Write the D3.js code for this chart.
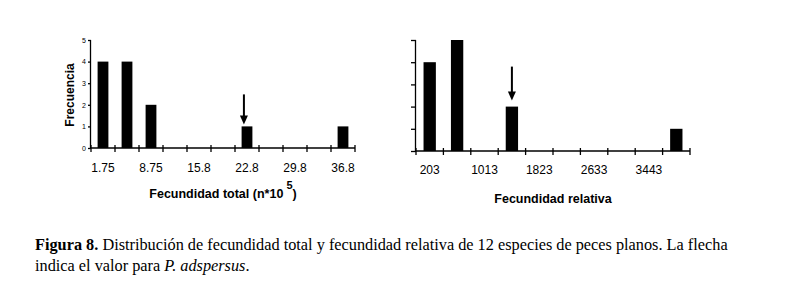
<!DOCTYPE html>
<html>
<head>
<meta charset="utf-8">
<script src="https://cdn.jsdelivr.net/npm/d3@7"></script>
<style>
  html, body { margin: 0; padding: 0; background: #fff; }
  svg { display: block; }
</style>
</head>
<body>
<div id="chart"></div>
<script>
// Histogram of total fecundity (n*10^5), bin width 3.5
const totalBins = [1.75, 5.25, 8.75, 12.25, 15.75, 19.25, 22.75, 26.25, 29.75, 33.25, 36.75];
const totalCounts = [4, 4, 2, 0, 0, 0, 1, 0, 0, 0, 1];
const totalTickValues = [1.75, 8.75, 15.75, 22.75, 29.75, 36.75];
const totalTickLabels = ['1.75', '8.75', '15.8', '22.8', '29.8', '36.8'];
const totalArrow = 22.3; // P. adspersus

// Histogram of relative fecundity, bin width 405
const relBins = [202.5, 607.5, 1012.5, 1417.5, 1822.5, 2227.5, 2632.5, 3037.5, 3442.5, 3847.5];
const relCounts = [4, 5, 0, 2, 0, 0, 0, 0, 0, 1];
const relTickValues = [202.5, 1012.5, 1822.5, 2632.5, 3442.5];
const relTickLabels = ['203', '1013', '1823', '2633', '3443'];
const relArrow = 1417.5;

const yTicks = [0, 1, 2, 3, 4, 5];

const width = 786;
const height = 286;
const sans = "'Liberation Sans', Arial, sans-serif";
const serif = "'Liberation Serif', 'Times New Roman', serif";

const svg = d3.select('#chart')
  .append('svg')
  .attr('width', width)
  .attr('height', height)
  .attr('viewBox', `0 0 ${width} ${height}`);

svg.append('rect').attr('width', width).attr('height', height).attr('fill', '#fff');

function drawHist(opts) {
  const { bins, counts, binWidth, tickValues, tickLabels, arrowAt, x0, x1, base, top,
    yTickLen, showYLabels, labelY, title, titleY, sup, arrowGap, arrowLen } = opts;

  const x = d3.scaleLinear()
    .domain([bins[0] - binWidth / 2, bins[bins.length - 1] + binWidth / 2])
    .range([x0, x1]);
  const y = d3.scaleLinear().domain([0, 5]).range([base, top]);

  const g = svg.append('g');

  // bars
  g.selectAll('rect.bar')
    .data(bins.map((b, i) => ({ b, c: counts[i] })).filter((d) => d.c > 0))
    .join('rect')
    .attr('class', 'bar')
    .attr('x', (d) => x(d.b - binWidth * 0.225))
    .attr('width', (d) => x(d.b + binWidth * 0.225) - x(d.b - binWidth * 0.225))
    .attr('y', (d) => y(d.c))
    .attr('height', (d) => y(0) - y(d.c))
    .attr('fill', '#000');

  // y axis
  const yAxis = d3.axisLeft(y)
    .tickValues(yTicks)
    .tickSize(yTickLen)
    .tickPadding(2)
    .tickFormat(showYLabels ? d3.format('d') : () => '');
  g.append('g')
    .attr('transform', `translate(${x0},0)`)
    .call(yAxis)
    .call((a) => a.select('.domain').attr('d', `M-0.5,${y(0)}V${y(5)}`).attr('stroke', '#000').attr('stroke-width', 1.3))
    .call((a) => a.selectAll('.tick line').attr('stroke', '#000').attr('stroke-width', 1.3))
    .call((a) => a.selectAll('.tick text').attr('font-family', sans).attr('font-size', 7).attr('fill', '#000'));

  // x axis: tick marks at bin edges, crossing the axis line
  const edges = d3.range(bins.length + 1).map((i) => bins[0] - binWidth / 2 + i * binWidth);
  g.append('line')
    .attr('x1', x0).attr('x2', x1)
    .attr('y1', y(0)).attr('y2', y(0))
    .attr('stroke', '#000').attr('stroke-width', 1.3);
  g.selectAll('line.xt')
    .data(edges)
    .join('line')
    .attr('class', 'xt')
    .attr('x1', (d) => x(d)).attr('x2', (d) => x(d))
    .attr('y1', y(0) - 3).attr('y2', y(0) + 4)
    .attr('stroke', '#000').attr('stroke-width', 1.3);

  g.selectAll('text.xl')
    .data(tickValues)
    .join('text')
    .attr('class', 'xl')
    .attr('x', (d) => x(d))
    .attr('y', labelY)
    .attr('text-anchor', 'middle')
    .attr('font-family', sans)
    .attr('font-size', 12)
    .attr('fill', '#000')
    .text((d, i) => tickLabels[i]);

  // title
  const t = g.append('text')
    .attr('x', (x0 + x1) / 2)
    .attr('y', titleY)
    .attr('text-anchor', 'middle')
    .attr('font-family', sans)
    .attr('font-size', 12.5)
    .attr('font-weight', 'bold')
    .attr('fill', '#000');
  t.append('tspan').text(title);
  if (sup) {
    t.append('tspan').attr('dy', -9).attr('font-size', 11).text(' ' + sup);
    t.append('tspan').attr('dy', 9).text(')');
  }

  // arrow marking P. adspersus
  const ai = bins.findIndex((b) => Math.abs(b - arrowAt) <= binWidth / 2);
  const ax = x(arrowAt);
  const tipY = y(counts[ai]) - arrowGap;
  g.append('line')
    .attr('x1', ax).attr('x2', ax)
    .attr('y1', tipY - arrowLen).attr('y2', tipY - 8)
    .attr('stroke', '#000').attr('stroke-width', 2);
  g.append('path')
    .attr('d', `M${ax - 4},${tipY - 9}L${ax + 4},${tipY - 9}L${ax},${tipY}Z`)
    .attr('fill', '#000');

  return { x, y };
}

drawHist({
  bins: totalBins, counts: totalCounts, binWidth: 3.5,
  tickValues: totalTickValues, tickLabels: totalTickLabels, arrowAt: totalArrow,
  x0: 91, x1: 355, base: 148, top: 40, yTickLen: 3, showYLabels: true,
  labelY: 172, title: 'Fecundidad total (n*10', titleY: 198, sup: '5',
  arrowGap: 2, arrowLen: 30
});

drawHist({
  bins: relBins, counts: relCounts, binWidth: 405,
  tickValues: relTickValues, tickLabels: relTickLabels, arrowAt: relArrow,
  x0: 416, x1: 690, base: 151, top: 40, yTickLen: 5, showYLabels: false,
  labelY: 174, title: 'Fecundidad relativa', titleY: 203, sup: null,
  arrowGap: 6, arrowLen: 34
});

// y-axis label of the left panel
svg.append('text')
  .attr('transform', 'translate(74,95) rotate(-90)')
  .attr('text-anchor', 'middle')
  .attr('font-family', sans)
  .attr('font-size', 12)
  .attr('font-weight', 'bold')
  .attr('fill', '#000')
  .text('Frecuencia');

// caption
const cap = svg.append('g').attr('font-family', serif).attr('font-size', 16.3).attr('fill', '#000');
const l1 = cap.append('text').attr('x', 35).attr('y', 250);
l1.append('tspan').attr('font-weight', 'bold').text('Figura 8.');
l1.append('tspan').text(' Distribución de fecundidad total y fecundidad relativa de 12 especies de peces planos. La flecha');
const l2 = cap.append('text').attr('x', 35).attr('y', 271);
l2.append('tspan').text('indica el valor para ');
l2.append('tspan').attr('font-style', 'italic').text('P. adspersus');
l2.append('tspan').text('.');
</script>
</body>
</html>
